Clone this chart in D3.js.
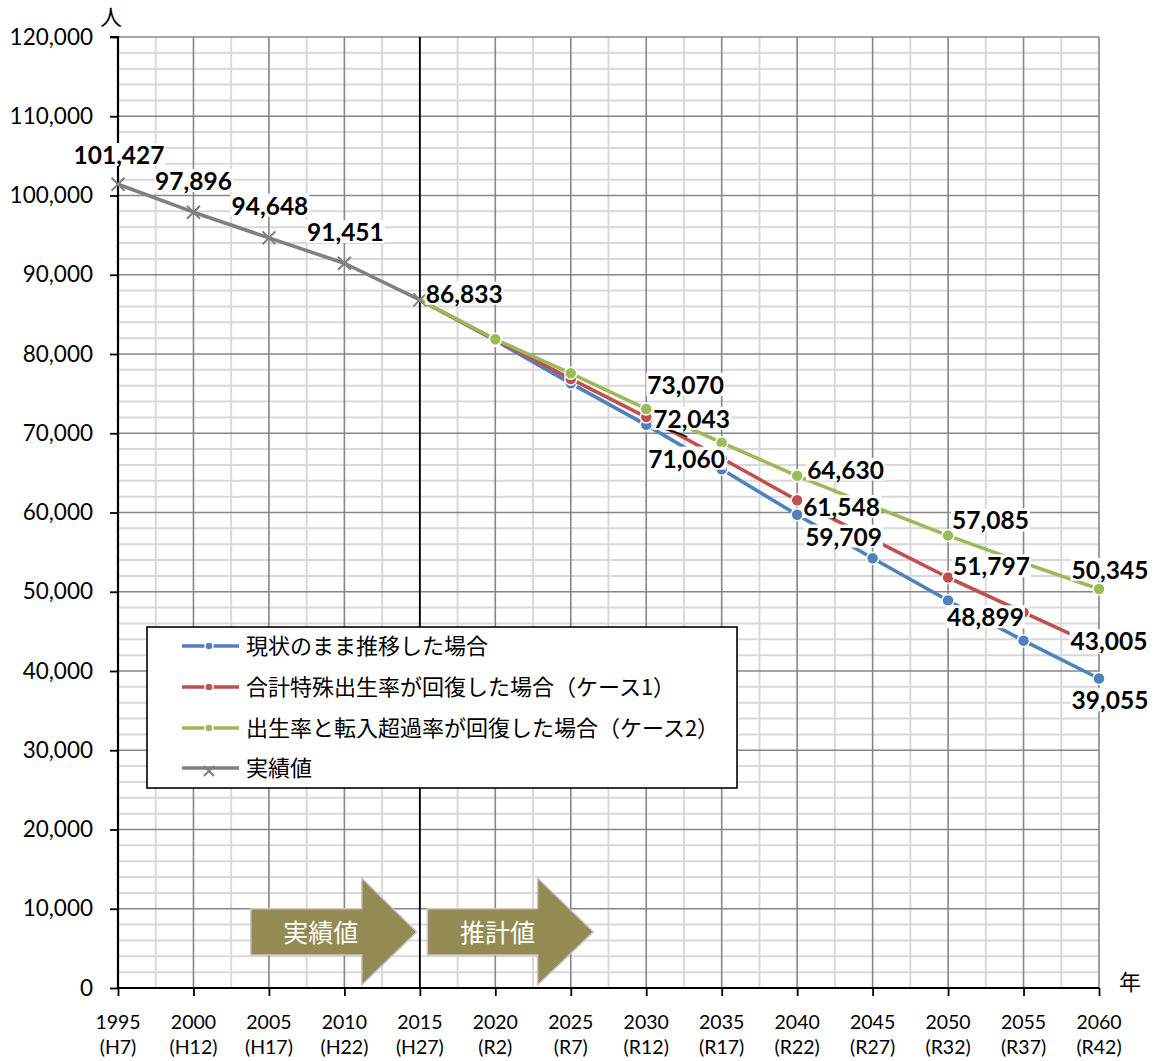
<!DOCTYPE html>
<html>
<head>
<meta charset="utf-8">
<script src="https://cdn.jsdelivr.net/npm/d3@7"></script>
<style>
  html, body { margin: 0; padding: 0; background: #fff; }
  svg { display: block; }
</style>
</head>
<body>
<svg id="chart" width="1160" height="1061"></svg>
<script>
// ---------- data ----------
const years      = [1995, 2000, 2005, 2010, 2015, 2020, 2025, 2030, 2035, 2040, 2045, 2050, 2055, 2060];
const eraLabels  = ["(H7)", "(H12)", "(H17)", "(H22)", "(H27)", "(R2)", "(R7)", "(R12)", "(R17)", "(R22)", "(R27)", "(R32)", "(R37)", "(R42)"];
const yTicks     = [0, 10000, 20000, 30000, 40000, 50000, 60000, 70000, 80000, 90000, 100000, 110000, 120000];

const actualYears = [1995, 2000, 2005, 2010, 2015];
const actualVals  = [101427, 97896, 94648, 91451, 86833];

const projYears = [2015, 2020, 2025, 2030, 2035, 2040, 2045, 2050, 2055, 2060];
const baseVals  = [86833, 81700, 76300, 71060, 65450, 59709, 54220, 48899, 43830, 39055];
const case1Vals = [86833, 81800, 76850, 72043, 66840, 61548, 56600, 51797, 47400, 43005];
const case2Vals = [86833, 81860, 77560, 73070, 68810, 64630, 60800, 57085, 53650, 50345];

const seriesNames = ["現状のまま推移した場合", "合計特殊出生率が回復した場合（ケース1）", "出生率と転入超過率が回復した場合（ケース2）", "実績値"];
const yUnit = "人";
const xUnit = "年";
const arrowTexts = ["実績値", "推計値"];

// ---------- layout / style ----------
const x = d3.scaleLinear().domain([1995, 2060]).range([118, 1099]);
const y = d3.scaleLinear().domain([0, 120000]).range([988, 37]);
const colors = { base: "#4F81BD", case1: "#C0504D", case2: "#9BBB59", actual: "#808080" };
const numFont = "Lato, 'Open Sans', sans-serif";
const cjkFont = "'Noto Sans CJK JP', 'Noto Sans', sans-serif";

const svg = d3.select("#chart");

// ---------- grid ----------
const grid = svg.append("g");
grid.selectAll("line.hmin").data(d3.range(2000, 120000, 2000).filter(v => v % 10000 !== 0))
  .join("line").attr("x1", x(1995)).attr("x2", x(2060))
  .attr("y1", d => y(d)).attr("y2", d => y(d))
  .attr("stroke", "#d9d9d9").attr("stroke-width", 2);
grid.selectAll("line.vmin").data(d3.range(1997.5, 2060, 5))
  .join("line").attr("y1", y(0)).attr("y2", y(120000))
  .attr("x1", d => x(d)).attr("x2", d => x(d))
  .attr("stroke", "#d9d9d9").attr("stroke-width", 2);
grid.selectAll("line.hmaj").data(yTicks.filter(v => v > 0))
  .join("line").attr("x1", x(1995)).attr("x2", x(2060))
  .attr("y1", d => y(d)).attr("y2", d => y(d))
  .attr("stroke", "#868686").attr("stroke-width", 1.6);
grid.selectAll("line.vmaj").data(years.slice(1))
  .join("line").attr("y1", y(0)).attr("y2", y(120000))
  .attr("x1", d => x(d)).attr("x2", d => x(d))
  .attr("stroke", "#868686").attr("stroke-width", 1.6);
svg.append("line").attr("x1", x(2015)).attr("x2", x(2015)).attr("y1", y(0)).attr("y2", y(120000))
  .attr("stroke", "#000").attr("stroke-width", 1.8);

// ---------- axes ----------
const yAxis = d3.axisLeft(y).tickValues(yTicks).tickSize(8).tickPadding(17)
  .tickFormat(d3.format(","));
const gy = svg.append("g").attr("transform", `translate(${x(1995)},0)`).call(yAxis);
gy.select(".domain").attr("stroke", "#000").attr("stroke-width", 2.2).attr("d", `M-8,${y(120000)}H0V${y(0)}`);
gy.selectAll(".tick line").attr("stroke", "#000").attr("stroke-width", 1.8);
gy.selectAll(".tick text").attr("font-family", numFont).attr("font-size", 22.5).attr("fill", "#000");

const xAxis = d3.axisBottom(x).tickValues(years).tickSize(8).tickFormat(() => "");
const gx = svg.append("g").attr("transform", `translate(0,${y(0)})`).call(xAxis);
gx.select(".domain").attr("stroke", "#000").attr("stroke-width", 2.2).attr("d", `M${x(1995)},0H${x(2060)}`);
gx.selectAll(".tick line").attr("stroke", "#000").attr("stroke-width", 1.8);

const xl = svg.append("g").attr("font-family", numFont).attr("font-size", 19.5).attr("fill", "#000")
  .attr("text-anchor", "middle");
xl.selectAll("text.yr").data(years).join("text")
  .attr("x", d => x(d)).attr("y", 1022).attr("dy", "0.35em").text(d => d);
xl.selectAll("text.era").data(years).join("text")
  .attr("x", (d) => x(d)).attr("y", 1047).attr("dy", "0.35em").text((d, i) => eraLabels[i]);

svg.append("text").attr("x", 111).attr("y", 17).attr("dy", "0.35em").attr("text-anchor", "middle")
  .attr("font-family", cjkFont).attr("font-size", 22).text(yUnit);
svg.append("text").attr("x", 1130).attr("y", 982).attr("dy", "0.35em").attr("text-anchor", "middle")
  .attr("font-family", cjkFont).attr("font-size", 22).text(xUnit);

// ---------- arrows (annotations) ----------
const arrowSpecs = [
  { x0: 2003.8, xb: 2011.15, xt: 2014.8, text: arrowTexts[0] },
  { x0: 2015.5, xb: 2022.8, xt: 2026.5, text: arrowTexts[1] }
];
const bodyTop = 10000, bodyBot = 4160, headTop = 13880, headBot = 380;
const mid = (bodyTop + bodyBot) / 2;
arrowSpecs.forEach(a => {
  const p = [
    [x(a.x0), y(bodyTop)], [x(a.xb), y(bodyTop)], [x(a.xb), y(headTop)],
    [x(a.xt), y(mid)], [x(a.xb), y(headBot)], [x(a.xb), y(bodyBot)], [x(a.x0), y(bodyBot)]
  ];
  svg.append("path").attr("d", "M" + p.map(q => q.join(",")).join("L") + "Z")
    .attr("fill", "#948A54").attr("stroke", "#c8c8c8").attr("stroke-width", 1.5);
  svg.append("text").attr("x", x(a.x0) + 70).attr("y", y(mid) + 1).attr("dy", "0.35em")
    .attr("text-anchor", "middle").attr("font-family", cjkFont).attr("font-size", 25)
    .attr("fill", "#fff").text(a.text);
});

// ---------- series ----------
const line = d3.line().x(d => x(d[0])).y(d => y(d[1]));
const proj = [
  { key: "base", vals: baseVals },
  { key: "case1", vals: case1Vals },
  { key: "case2", vals: case2Vals }
];
proj.forEach(s => {
  const pts = projYears.map((yr, i) => [yr, s.vals[i]]);
  svg.append("path").attr("d", line(pts)).attr("fill", "none")
    .attr("stroke", colors[s.key]).attr("stroke-width", 3.6).attr("stroke-linejoin", "round");
  svg.append("g").selectAll("circle").data(pts.slice(1)).join("circle")
    .attr("cx", d => x(d[0])).attr("cy", d => y(d[1])).attr("r", 6)
    .attr("fill", colors[s.key]).attr("stroke", "#fff").attr("stroke-width", 1.5);
});
const actPts = actualYears.map((yr, i) => [yr, actualVals[i]]);
svg.append("path").attr("d", line(actPts)).attr("fill", "none")
  .attr("stroke", colors.actual).attr("stroke-width", 3.6).attr("stroke-linejoin", "round");
svg.append("g").selectAll("path").data(actPts).join("path")
  .attr("d", d => { const cx = x(d[0]), cy = y(d[1]), r = 6.5;
    return `M${cx - r},${cy - r}L${cx + r},${cy + r}M${cx - r},${cy + r}L${cx + r},${cy - r}`; })
  .attr("stroke", colors.actual).attr("stroke-width", 2);

// leader line near 2030
svg.append("path")
  .attr("d", `M${x(2030) + 7},${y(71060) + 2}Q${x(2030) + 25},${y(71060) + 5} ${x(2030) + 41},${y(71060) + 12}`)
  .attr("fill", "none").attr("stroke", "#000").attr("stroke-width", 1.5);

// ---------- data labels ----------
const labelSpecs = [
  { s: "actual", yr: 1995, dx: 1, dy: -29, a: "middle" },
  { s: "actual", yr: 2000, dx: 0, dy: -31, a: "middle" },
  { s: "actual", yr: 2005, dx: 1, dy: -32, a: "middle" },
  { s: "actual", yr: 2010, dx: 1, dy: -31, a: "middle" },
  { s: "actual", yr: 2015, dx: 6, dy: -6, a: "start" },
  { s: "case2", yr: 2030, dx: 1, dy: -24, a: "start" },
  { s: "case1", yr: 2030, dx: 7, dy: 2, a: "start" },
  { s: "base", yr: 2030, dx: 2, dy: 34, a: "start" },
  { s: "case2", yr: 2040, dx: 10, dy: -6, a: "start" },
  { s: "case1", yr: 2040, dx: 6, dy: 7, a: "start" },
  { s: "base", yr: 2040, dx: 8, dy: 22, a: "start" },
  { s: "case2", yr: 2050, dx: 4, dy: -15, a: "start" },
  { s: "case1", yr: 2050, dx: 5, dy: -11, a: "start" },
  { s: "base", yr: 2050, dx: -1, dy: 17, a: "start" },
  { s: "case2", yr: 2060, dx: 11, dy: -19, a: "middle" },
  { s: "case1", yr: 2060, dx: 10, dy: -6, a: "middle" },
  { s: "base", yr: 2060, dx: 11, dy: 22, a: "middle" }
];
const valueOf = (s, yr) => {
  if (s === "actual") return actualVals[actualYears.indexOf(yr)];
  const arr = s === "base" ? baseVals : s === "case1" ? case1Vals : case2Vals;
  return arr[projYears.indexOf(yr)];
};
const lg = svg.append("g");
labelSpecs.forEach(l => {
  const v = valueOf(l.s, l.yr);
  const g = lg.append("g");
  const t = g.append("text").attr("x", x(l.yr) + l.dx).attr("y", y(v) + l.dy).attr("dy", "0.36em")
    .attr("text-anchor", l.a).attr("font-family", numFont).attr("font-weight", 700)
    .attr("font-size", 24.5).attr("fill", "#000").text(d3.format(",")(v));
  const b = t.node().getBBox();
  g.insert("rect", "text").attr("x", b.x - 1).attr("y", b.y + 3).attr("width", b.width + 2)
    .attr("height", b.height - 6).attr("fill", "#fff");
});

// ---------- legend ----------
const leg = svg.append("g");
leg.append("rect").attr("x", 147).attr("y", 627).attr("width", 590).attr("height", 161)
  .attr("fill", "#fff").attr("stroke", "#000").attr("stroke-width", 1.6);
const legKeys = ["base", "case1", "case2", "actual"];
const rowY = [646, 687, 728, 768];
legKeys.forEach((k, i) => {
  const ry = rowY[i];
  leg.append("line").attr("x1", 182).attr("x2", 239).attr("y1", ry).attr("y2", ry)
    .attr("stroke", colors[k]).attr("stroke-width", 3.6);
  if (k === "actual") {
    const r = 5;
    leg.append("path").attr("d", `M${209 - r},${ry - r + 3}L${209 + r},${ry + r + 3}M${209 - r},${ry + r + 3}L${209 + r},${ry - r + 3}`)
      .attr("stroke", colors[k]).attr("stroke-width", 2);
  } else {
    leg.append("circle").attr("cx", 209).attr("cy", ry).attr("r", 4)
      .attr("fill", colors[k]).attr("stroke", "#fff").attr("stroke-width", 1.5);
  }
  leg.append("text").attr("x", 246).attr("y", ry).attr("dy", "0.36em")
    .attr("font-family", cjkFont).attr("font-size", 22).attr("fill", "#000").text(seriesNames[i]);
});
</script>
</body>
</html>
